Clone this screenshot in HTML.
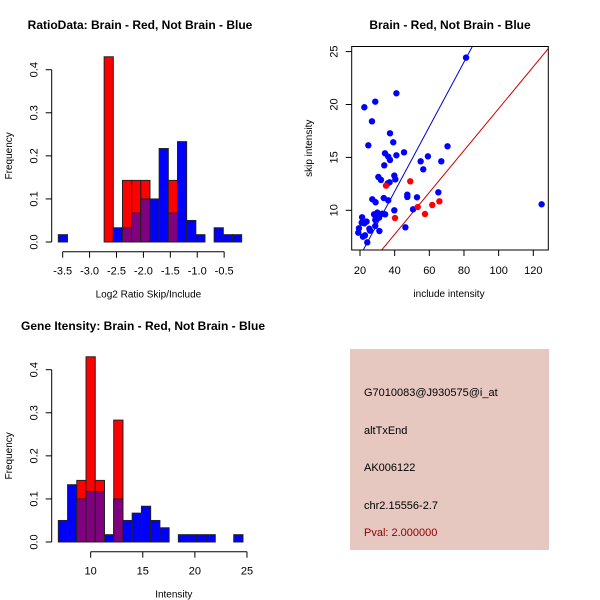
<!DOCTYPE html>
<html><head><meta charset="utf-8"><style>
body{margin:0;background:#fff;}
svg{display:block;font-family:"Liberation Sans",sans-serif;}
</style></head><body>
<svg id="c" width="600" height="600" viewBox="0 0 600 600"></svg>
<script>
// ---- Ratio histogram data (bin index, frequency) ----
const ratioBinStart = -3.581;
const ratioBinWidth = 0.1703;
const ratioBlue = [0.017,0,0,0,0,0,0.033,0.033,0.067,0.1,0.1,0.217,0.067,0.233,0.05,0.017,0,0.033,0.017,0.017];
const ratioRed  = [0,0,0,0,0,0.43,0,0.143,0.143,0.143,0,0,0.143,0,0,0,0,0,0,0];
const ratioXTicks = [-3.5,-3.0,-2.5,-2.0,-1.5,-1.0,-0.5];
const freqTicks = [0.0,0.1,0.2,0.3,0.4];
// ---- Intensity histogram data ----
const intBinStart = 6.897;
const intBinWidth = 0.886;
const intBlue = [0.05,0.133,0.1,0.117,0.117,0.017,0.1,0.05,0.067,0.083,0.05,0.033,0,0.017,0.017,0.017,0.017,0,0,0.017];
const intRed  = [0,0,0.143,0.43,0.143,0,0.283,0,0,0,0,0,0,0,0,0,0,0,0,0];
const intXTicks = [10,15,20,25];
// ---- Scatter data ----
const blueInclude = [81.2,22.5,28.8,41.0,26.9,24.8,37.3,39.2,34.4,36.3,37.3,41.0,45.4,34.0,55.0,59.2,56.5,66.9,70.5,30.6,32.1,39.8,40.4,36.0,37.1,47.3,47.3,52.9,65.2,27.1,29.0,33.7,36.3,124.8,39.8,50.6,21.2,28.1,30.0,32.9,34.5,19.4,19.0,21.0,22.5,23.8,21.7,22.9,25.4,25.8,28.8,29.8,31.2,28.8,24.2,46.2,31.0];
const blueSkip = [24.43,19.74,20.27,21.06,18.41,16.14,17.28,16.43,15.39,15.07,14.76,15.20,15.48,14.25,14.63,15.10,13.87,14.63,16.05,13.15,12.87,13.28,12.93,12.55,12.65,11.48,11.26,11.23,11.70,11.04,10.76,11.16,10.94,10.57,10.0,10.09,9.34,9.62,9.78,9.68,9.62,8.30,7.89,8.83,8.77,8.93,7.51,7.63,8.26,8.08,9.09,9.34,8.04,8.52,6.97,8.39,9.31];
const redInclude = [35.0,49.0,40.2,53.3,57.5,61.7,65.8];
const redSkip = [12.33,12.74,9.27,10.31,9.65,10.50,10.85];
const blueFit = [-0.44,0.3056]; // intercept, slope
const redFit = [-0.19,0.198];
const scatXTicks = [20,40,60,80,100,120];
const scatYTicks = [10,15,20,25];

const NS="http://www.w3.org/2000/svg";
const svg=document.getElementById('c');
function mk(tag,attrs,parent){const e=document.createElementNS(NS,tag);for(const k in attrs)e.setAttribute(k,attrs[k]);(parent||svg).appendChild(e);return e;}
function txt(s,x,y,opt,parent){const e=mk('text',Object.assign({x:x,y:y,'font-size':11,'text-anchor':'middle',fill:'#000'},opt||{}),parent);e.textContent=s;return e;}

function hist(name,g0,x0,x1,X,yBase,yTop,binStart,binW,blue,red,xticks,xlabel,title,titleX,titleY,axisY){
  const g=mk('g',{});
  
  
  const sx=v=>X[0]+(v-X[1])*X[2];
  const sy=v=>yBase-(v/0.4)*(yBase-yTop);
  for(let i=0;i<blue.length;i++){
    const a=sx(binStart+i*binW), b=sx(binStart+(i+1)*binW);
    const bv=blue[i], rv=red[i];
    if(bv>0){const r=mk('rect',{x:a,y:sy(bv),width:b-a,height:sy(0)-sy(bv),fill:'#0000ff',stroke:'#222','stroke-width':1},g);
      
      }
    if(rv>0){const r=mk('rect',{x:a,y:sy(rv),width:b-a,height:sy(0)-sy(rv),fill:'#ff0000',stroke:'#222','stroke-width':1},g);
      
      }
    const m=Math.min(bv,rv);
    if(m>0){const r=mk('rect',{x:a,y:sy(m),width:b-a,height:sy(0)-sy(m),fill:'#800080',stroke:'#222','stroke-width':1},g);
      
      }
  }
  // y axis
  const yax=mk('g',{},g);
  
  
  const ax=51.7;
  mk('line',{x1:ax,x2:ax,y1:sy(0),y2:sy(0.4),stroke:'#000'},yax);
  freqTicks.forEach(t=>{mk('line',{x1:ax-6,x2:ax,y1:sy(t),y2:sy(t),stroke:'#000'},yax);
    const e=txt(t.toFixed(1),0,0,{transform:`translate(${ax-14},${sy(t)}) rotate(-90)`},yax);
    
    });
  const yl=txt('Frequency',0,0,{transform:`translate(12,${(sy(0)+sy(0.4))/2}) rotate(-90)`,'font-size':10},g);
  
  
  // x axis
  const xax=mk('g',{},g);
  
  
  mk('line',{x1:sx(xticks[0]),x2:sx(xticks[xticks.length-1]),y1:axisY,y2:axisY,stroke:'#000'},xax);
  xticks.forEach(t=>{mk('line',{x1:sx(t),x2:sx(t),y1:axisY,y2:axisY+6,stroke:'#000'},xax);
    const e=txt(String(t%1===0&&Math.abs(t)>=5?t:(t%1===0?t.toFixed(1):t)),sx(t),axisY+23,{},xax);
    
    });
  const xl=txt(xlabel,(sx(xticks[0])+sx(xticks[xticks.length-1]))/2+5,axisY+46,{'font-size':10},g);
  
  
  const tt=txt(title,titleX,titleY,{'font-size':12,'font-weight':'bold'},g);
  
  
}
hist('ratio-histogram',0,0,0,[62.67,-3.5,53.83],242,69.7,ratioBinStart,ratioBinWidth,ratioBlue,ratioRed,ratioXTicks,'Log2 Ratio Skip/Include','RatioData: Brain - Red, Not Brain - Blue',140,29,251.7);
hist('intensity-histogram',0,0,0,[90.67,10,10.42],542,369.7,intBinStart,intBinWidth,intBlue,intRed,intXTicks,'Intensity','Gene Itensity: Brain - Red, Not Brain - Blue',143,330,551.7);

// scatter
(function(){
  const g=mk('g',{});
  
  
  const L=351.7,R=548.3,T=46.5,B=250;
  const sx=v=>360+(v-20)*1.733;
  const sy=v=>210.3-(v-10)*10.58;
  const xmin=20+(L-360)/1.733, xmax=20+(R-360)/1.733;
  const cp=mk('clipPath',{id:'clp'},g);
  mk('rect',{x:L,y:T,width:R-L,height:B-T},cp);
  const inner=mk('g',{'clip-path':'url(#clp)'},g);
  [[blueFit,'#0000cc','blue-fit-line'],[redFit,'#cc0000','red-fit-line']].forEach(([f,c,n])=>{
    const l=mk('line',{x1:sx(xmin),y1:sy(f[0]+f[1]*xmin),x2:sx(xmax),y2:sy(f[0]+f[1]*xmax),stroke:c,'stroke-width':1},inner);
    
    
  });
  blueInclude.forEach((v,i)=>{const p=mk('circle',{cx:sx(v),cy:sy(blueSkip[i]),r:3.2,fill:'#0000ff'},inner);
    
    });
  redInclude.forEach((v,i)=>{const p=mk('circle',{cx:sx(v),cy:sy(redSkip[i]),r:3.2,fill:'#ff0000'},inner);
    
    });
  mk('rect',{x:L,y:T,width:R-L,height:B-T,fill:'none',stroke:'#000'},g);
  scatXTicks.forEach(t=>{mk('line',{x1:sx(t),x2:sx(t),y1:B,y2:B+6,stroke:'#000'},g);
    const e=txt(String(t),sx(t),B+24,{},g);
    
    });
  scatYTicks.forEach(t=>{mk('line',{x1:L-6,x2:L,y1:sy(t),y2:sy(t),stroke:'#000'},g);
    const e=txt(String(t),0,0,{transform:`translate(${L-14},${sy(t)}) rotate(-90)`},g);
    
    });
  const xl=txt('include intensity',449,297,{'font-size':10},g);
  
  
  const yl=txt('skip intensity',0,0,{transform:`translate(312,${(T+B)/2}) rotate(-90)`,'font-size':10},g);
  
  
  const tt=txt('Brain - Red, Not Brain - Blue',450,29,{'font-size':12,'font-weight':'bold'},g);
  
  
})();

// info panel
(function(){
  const g=mk('g',{});
  
  
  mk('rect',{x:350,y:349,width:199,height:201,fill:'#e6c8c0'},g);
  const lines=[['G7010083@J930575@i_at',396,'#000','probe-id'],['altTxEnd',434,'#000','event-type'],['AK006122',471,'#000','accession'],['chr2.15556-2.7',509,'#000','location'],['Pval: 2.000000',536,'#8b0000','p-value']];
  lines.forEach(([s,y,c,n])=>{const e=txt(s,364,y,{'text-anchor':'start',fill:c,'font-size':11},g);
    
    });
})();
</script>
</body></html>
